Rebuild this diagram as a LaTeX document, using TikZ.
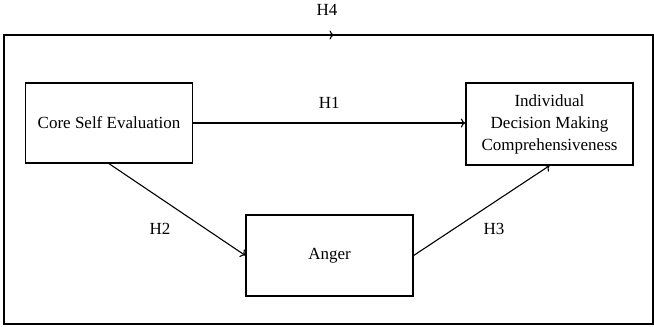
\documentclass[tikz,border=0pt]{standalone}
\usepackage{fontspec}
\setmainfont{Liberation Serif}
\usetikzlibrary{arrows.meta}
\begin{document}
\begin{tikzpicture}[x=1pt,y=-1pt,
  box/.style={draw=black, line width=1.3pt, minimum width=167pt, minimum height=80pt, inner sep=0pt, align=center,
    font=\fontsize{17}{22}\selectfont},
  lbl/.style={font=\fontsize{17}{20}\selectfont, inner sep=0pt},
  conn/.style={line width=1.1pt, -{To[length=4.5pt,width=9pt]}},
  loop/.style={line width=1.6pt}]
\useasboundingbox (0,0) rectangle (654,327);
\node[box] (cse) at (109,123) {Core Self Evaluation};
\node[box, minimum height=82pt] (idmc) at (549.5,124) {Individual\\Decision Making\\Comprehensiveness};
\node[box, minimum height=81pt] (anger) at (329.5,255.5) {Anger};
\draw[conn] (cse.east) -- (cse.east -| idmc.west) node[lbl, midway, above=14pt] (h1) {H1};
\draw[conn] (cse.south) -- (anger.west);
\draw[conn] (anger.east) -- (idmc.south);
\node[lbl] (h2) at (160,229) {H2};
\node[lbl] (h3) at (494,229) {H3};
\coordinate (tl) at (4,35);
\coordinate (tr) at (653,35);
\coordinate (br) at (653,324);
\coordinate (bl) at (4,324);
\coordinate (mid) at (334,35);
\draw[loop] (tl) -- (tr) -- (br) -- (bl) -- cycle;
\draw[line width=1.1pt, -{To[length=4.5pt,width=9pt]}] (tl) -- (mid);
\node[lbl] (h4) at (327,10) {H4};
\end{tikzpicture}
\end{document}
